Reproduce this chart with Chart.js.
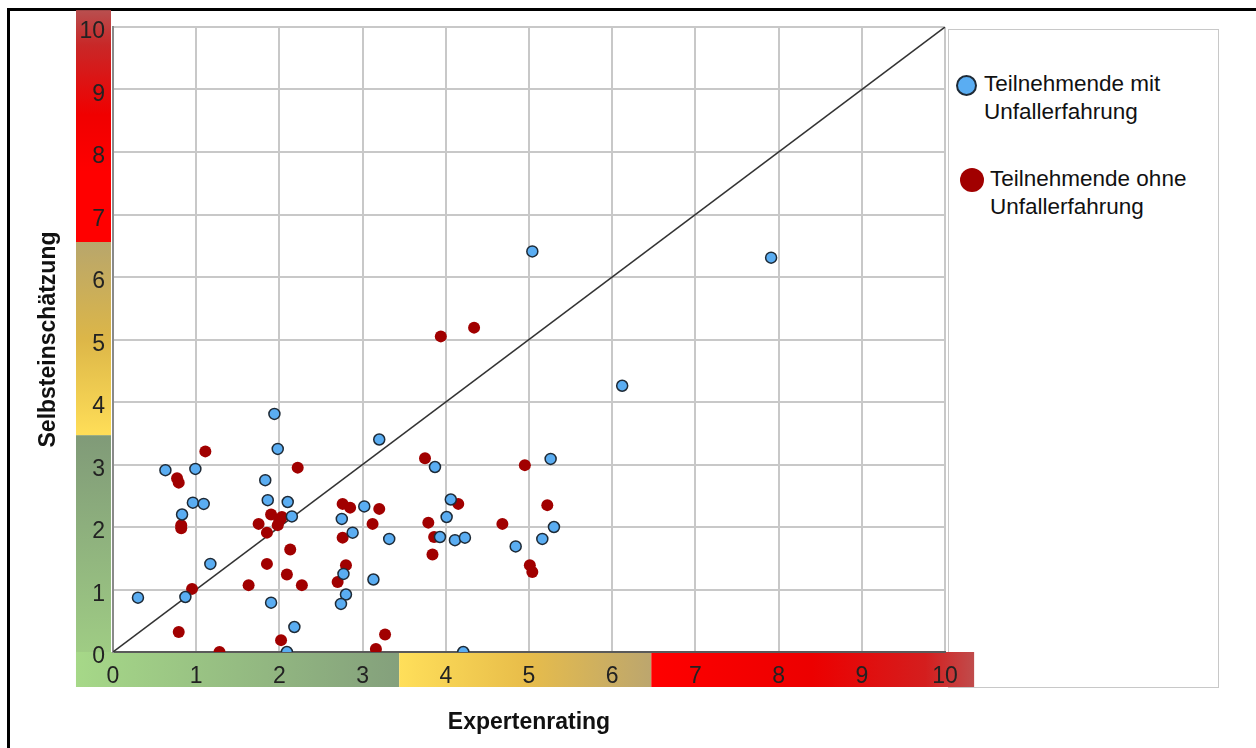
<!DOCTYPE html>
<html>
<head>
<meta charset="utf-8">
<script src="https://cdn.jsdelivr.net/npm/chart.js@4.4.0/dist/chart.umd.min.js"></script>
<style>
  html, body { margin: 0; padding: 0; background: #fff; overflow: hidden; }
  #wrap { position: relative; width: 1256px; height: 748px; }
  #frame { position: absolute; left: 7px; top: 8px; width: 1270px; height: 760px; border: 3px solid #000; box-sizing: border-box; }
  #chart { position: absolute; left: 0; top: 0; }
  #legend { position: absolute; left: 948px; top: 29px; width: 271px; height: 659px; border: 1px solid #c8c8c8; box-sizing: border-box; background: #fff;
            font-family: "Liberation Sans", Arial, sans-serif; font-size: 22.5px; line-height: 28px; color: #111; }
  .txt { position: absolute; white-space: nowrap; }
  .dot { position: absolute; border-radius: 50%; box-sizing: border-box; }
</style>
</head>
<body>
<div id="wrap">
  <div id="frame"></div>
  <div id="legend">
    <div class="dot" style="left:7px;top:45px;width:21px;height:21px;background:#5aadf2;border:2px solid #1e2a36;"></div>
    <div class="txt" style="left:35px;top:40px;">Teilnehmende mit<br>Unfallerfahrung</div>
    <div class="dot" style="left:11px;top:138px;width:24px;height:24px;background:#a10000;"></div>
    <div class="txt" style="left:41px;top:135px;">Teilnehmende ohne<br>Unfallerfahrung</div>
  </div>
  <canvas id="chart" width="1256" height="748"></canvas>
</div>
<script>
// Teilnehmende mit Unfallerfahrung (blau)
const mitX = [1.94, 1.98, 0.63, 0.99, 1.83, 1.86, 2.10, 0.96, 1.09, 0.83, 2.15, 1.17, 0.30, 0.87, 1.90, 2.18, 2.09,
              3.20, 3.87, 5.26, 4.06, 3.02, 4.01, 2.75, 2.88, 3.32, 3.93, 4.11, 4.23, 5.30, 5.16, 4.84, 2.77, 3.13, 2.80, 2.74, 4.21,
              5.04, 7.91, 6.12];
const mitY = [3.81, 3.25, 2.91, 2.93, 2.75, 2.43, 2.40, 2.39, 2.37, 2.20, 2.17, 1.41, 0.87, 0.88, 0.79, 0.40, 0.00,
              3.40, 2.96, 3.09, 2.44, 2.33, 2.16, 2.13, 1.91, 1.81, 1.84, 1.79, 1.83, 2.00, 1.81, 1.69, 1.25, 1.16, 0.92, 0.77, 0.00,
              6.41, 6.31, 4.26];

// Teilnehmende ohne Unfallerfahrung (rot)
const ohneX = [1.11, 2.22, 0.77, 0.79, 1.90, 2.03, 2.00, 1.75, 0.82, 0.82, 1.98, 1.85, 2.13, 1.85, 2.09, 1.63, 2.27, 0.95, 0.79, 2.02, 1.28,
               3.75, 4.95, 2.76, 2.85, 3.20, 4.15, 5.22, 3.12, 3.79, 4.68, 2.76, 3.86, 3.84, 2.80, 5.01, 5.04, 2.70, 3.27, 3.16,
               3.94, 4.34];
const ohneY = [3.21, 2.95, 2.78, 2.71, 2.20, 2.16, 2.11, 2.05, 2.03, 1.98, 2.03, 1.91, 1.64, 1.41, 1.24, 1.07, 1.07, 1.01, 0.32, 0.19, 0.00,
               3.10, 2.99, 2.37, 2.31, 2.29, 2.37, 2.35, 2.05, 2.07, 2.05, 1.83, 1.84, 1.56, 1.39, 1.39, 1.28, 1.12, 0.28, 0.05,
               5.05, 5.19];

// Diagonale (Selbsteinschätzung = Expertenrating)
const diagX = [0, 10];
const diagY = [0, 10];

const tickValues = [0, 1, 2, 3, 4, 5, 6, 7, 8, 9, 10];

// farbige Bereiche an den Achsen (in Achsenwerten)
const xBands = [
  { from: -0.445, to: 3.44, stops: [[0, '#a6d888'], [1, '#84a07c']] },
  { from: 3.44, to: 6.47, stops: [[0, '#ffdf5a'], [0.5, '#e8bd4a'], [1, '#bca66e']] },
  { from: 6.47, to: 10.35, stops: [[0, '#ff0000'], [0.5, '#ec0000'], [0.85, '#d41e1e'], [1, '#c04c4c']] }
];
const yBands = [
  { from: -0.56, to: 3.47, stops: [[0, '#a4d486'], [1, '#809a78']] },
  { from: 3.47, to: 6.56, stops: [[0, '#ffde58'], [0.5, '#dcb648'], [1, '#b8a66c']] },
  { from: 6.56, to: 10.27, stops: [[0, '#ff0000'], [0.3, '#ff0000'], [0.55, '#f00000'], [0.85, '#c82828'], [1, '#b94f4f']] }
];

const toPoints = (xs, ys) => xs.map((x, i) => ({ x: x, y: ys[i] }));

const FONT = '"Liberation Sans", Arial, sans-serif';

const bandPlugin = {
  id: 'bands',
  beforeDraw(chart) {
    const { ctx, chartArea, scales } = chart;
    const x = scales.x, y = scales.y;
    ctx.save();
    yBands.forEach(b => {
      const yb = y.getPixelForValue(b.from), yt = y.getPixelForValue(b.to);
      const g = ctx.createLinearGradient(0, yb, 0, yt);
      b.stops.forEach(s => g.addColorStop(s[0], s[1]));
      ctx.fillStyle = g;
      ctx.fillRect(chartArea.left - 37, yt, 35, yb - yt);
    });
    xBands.forEach(b => {
      const xl = x.getPixelForValue(b.from), xr = x.getPixelForValue(b.to);
      const g = ctx.createLinearGradient(xl, 0, xr, 0);
      b.stops.forEach(s => g.addColorStop(s[0], s[1]));
      ctx.fillStyle = g;
      ctx.fillRect(xl, chartArea.bottom, xr - xl, 35);
    });
    ctx.restore();
  }
};

new Chart(document.getElementById('chart'), {
  type: 'scatter',
  data: {
    datasets: [
      {
        label: 'Teilnehmende mit Unfallerfahrung',
        data: toPoints(mitX, mitY),
        backgroundColor: '#5aadf2',
        borderColor: '#1e2a36',
        borderWidth: 1.5,
        pointRadius: 5.5,
        clip: 0
      },
      {
        label: 'Teilnehmende ohne Unfallerfahrung',
        data: toPoints(ohneX, ohneY),
        backgroundColor: '#a10000',
        borderColor: '#a10000',
        borderWidth: 0,
        pointRadius: 6,
        clip: 0
      },
      {
        label: 'Diagonale',
        data: toPoints(diagX, diagY),
        showLine: true,
        borderColor: '#333333',
        borderWidth: 1.5,
        pointRadius: 0,
        clip: 0
      }
    ]
  },
  options: {
    responsive: false,
    animation: false,
    layout: { padding: { left: 0, top: 27, right: 311, bottom: 0 } },
    plugins: { legend: { display: false }, tooltip: { enabled: false } },
    scales: {
      x: {
        type: 'linear', min: 0, max: 10,
        afterFit: s => { s.height = 96; },
        afterBuildTicks: s => { s.ticks = tickValues.map(v => ({ value: v })); },
        ticks: { padding: 11, color: '#222', maxRotation: 0, font: { family: FONT, size: 23 } },
        grid: { color: '#c8c8c8', lineWidth: 2, drawTicks: false },
        border: { color: '#5a5a5a', width: 2 },
        title: { display: true, text: 'Expertenrating', color: '#111',
                 font: { family: FONT, size: 23, weight: 'bold' }, padding: { top: 11, bottom: 12 } }
      },
      y: {
        type: 'linear', min: 0, max: 10,
        afterFit: s => { s.width = 113; },
        afterBuildTicks: s => { s.ticks = tickValues.map(v => ({ value: v })); },
        ticks: { padding: 8, labelOffset: 5, color: '#222', font: { family: FONT, size: 23 } },
        grid: { color: '#c8c8c8', lineWidth: 2, drawTicks: false },
        border: { color: '#8a8a8a', width: 2 },
        title: { display: true, text: 'Selbsteinschätzung', color: '#111',
                 font: { family: FONT, size: 23, weight: 'bold' }, padding: { top: 35, bottom: 0 } }
      }
    }
  },
  plugins: [bandPlugin]
});
</script>
</body>
</html>
